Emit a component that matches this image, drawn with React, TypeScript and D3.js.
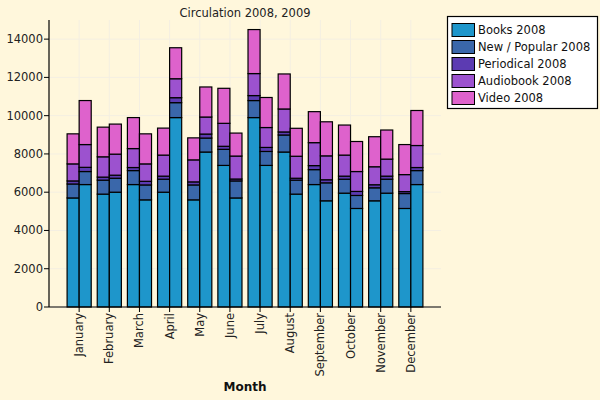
import React from "react";
import * as d3 from "d3";

const months = [
  "January", "February", "March", "April", "May", "June",
  "July", "August", "September", "October", "November", "December",
];

const seriesNames = ["Books", "New / Popular", "Periodical", "Audiobook", "Video"];
const seriesColors = ["#1e96cb", "#3a67aa", "#5c3bb2", "#9c52cf", "#de62cc"];

// 2008 values per series, Jan..Dec
const books2008 = [5700, 5900, 6400, 6000, 5600, 7400, 9900, 8100, 6400, 5950, 5550, 5150];
const newPop2008 = [730, 730, 730, 680, 780, 840, 890, 890, 780, 730, 680, 780];
const periodical2008 = [160, 160, 160, 160, 160, 160, 260, 160, 210, 160, 160, 100];
const audio2008 = [890, 1060, 990, 1100, 1150, 1200, 1150, 1200, 1200, 1100, 940, 890];
const video2008 = [1570, 1550, 1620, 1410, 1150, 1830, 2300, 1830, 1620, 1570, 1570, 1570];

// 2009 values per series, Jan..Dec
const books2009 = [6400, 6000, 5600, 9900, 8100, 5700, 7400, 5900, 5550, 5150, 5950, 6400];
const newPop2009 = [680, 730, 780, 780, 730, 890, 730, 730, 940, 680, 730, 730];
const periodical2009 = [220, 160, 190, 260, 210, 100, 210, 100, 160, 210, 160, 160];
const audio2009 = [1190, 1100, 910, 990, 890, 1200, 1040, 1150, 1250, 1040, 890, 1150];
const video2009 = [2300, 1570, 1570, 1620, 1570, 1200, 1570, 1460, 1780, 1570, 1520, 1830];

const yTicks = [0, 2000, 4000, 6000, 8000, 10000, 12000, 14000];

const W = 600;
const H = 400;
const m = { left: 49, right: 159, top: 20, bottom: 93 };
const font = "'DejaVu Sans', sans-serif";

export default function App() {
  const x = d3.scaleLinear().domain([0, 13]).range([m.left, W - m.right]);
  const y = d3.scaleLinear().domain([0, 15000]).range([H - m.bottom, m.top]);
  const barW = 0.4;

  const years = [
    { offset: -barW, data: [books2008, newPop2008, periodical2008, audio2008, video2008] },
    { offset: 0, data: [books2009, newPop2009, periodical2009, audio2009, video2009] },
  ];

  const rects: JSX.Element[] = [];
  years.forEach((yr, yi) => {
    const rows = months.map((_, mi) => {
      const o: Record<string, number> = {};
      yr.data.forEach((s, si) => (o[String(si)] = s[mi]));
      return o;
    });
    const layers = d3
      .stack<Record<string, number>>()
      .keys(seriesNames.map((_, i) => String(i)))(rows);
    layers.forEach((layer, si) => {
      layer.forEach((seg, mi) => {
        const x0 = x(mi + 1 + yr.offset);
        const x1 = x(mi + 1 + yr.offset + barW);
        rects.push(
          <rect
            key={`${yi}-${si}-${mi}`}
            x={x0}
            y={y(seg[1])}
            width={x1 - x0}
            height={y(seg[0]) - y(seg[1])}
            fill={seriesColors[si]}
            stroke="#000"
            strokeWidth={1.2}
          />
        );
      });
    });
  });

  const x0 = x(0);
  const x1 = x(13);
  const yb = y(0);
  const yt = m.top;

  return (
    <div style={{ position: "fixed", left: 0, top: 0 }}>
      <svg width={W} height={H} style={{ display: "block", fontFamily: font }}>
        <rect x={0} y={0} width={W} height={H} fill="#fff7dc" />
        {yTicks.map((t) => (
          <line key={"gy" + t} x1={x0} x2={x1} y1={y(t)} y2={y(t)} stroke="#f4efe2" strokeWidth={1} />
        ))}
        {months.map((_, i) => (
          <line key={"gx" + i} x1={x(i + 1)} x2={x(i + 1)} y1={yt} y2={yb} stroke="#f4efe2" strokeWidth={1} />
        ))}
        {rects}
        <line x1={x0} x2={x0} y1={yt} y2={yb} stroke="#000" strokeWidth={1.2} />
        <line x1={x0} x2={x1} y1={yb} y2={yb} stroke="#000" strokeWidth={1.2} />
        {yTicks.map((t) => (
          <g key={"ty" + t}>
            <line x1={x0 - 5} x2={x0} y1={y(t)} y2={y(t)} stroke="#000" />
            <text x={x0 - 6} y={y(t)} dy="0.35em" textAnchor="end" fontSize={11.5} fill="#222">
              {t}
            </text>
          </g>
        ))}
        {months.map((mo, i) => (
          <g key={"tx" + mo}>
            <line x1={x(i + 1)} x2={x(i + 1)} y1={yb} y2={yb + 5} stroke="#000" />
            <text
              transform={`translate(${x(i + 1)},${yb + 6}) rotate(-90)`}
              dy="0.35em"
              textAnchor="end"
              fontSize={11.5}
              fill="#222"
            >
              {mo}
            </text>
          </g>
        ))}
        <text x={(x0 + x1) / 2} y={391} textAnchor="middle" fontSize={12} fontWeight="bold" fill="#111">
          Month
        </text>
        <text x={(x0 + x1) / 2} y={17} textAnchor="middle" fontSize={11.5} fill="#222">
          Circulation 2008, 2009
        </text>
        <g>
          <rect x={447.5} y={16.5} width={150} height={92} fill="#fff" stroke="#000" strokeWidth={1.2} />
          {seriesNames.map((s, i) => (
            <g key={"lg" + s} transform={`translate(452,${23 + i * 17})`}>
              <rect x={0} y={0.5} width={22.5} height={13} fill={seriesColors[i]} stroke="#000" strokeWidth={1} />
              <text x={26} y={7} dy="0.35em" fontSize={11.5} fill="#111">
                {s} 2008
              </text>
            </g>
          ))}
        </g>
      </svg>
    </div>
  );
}
